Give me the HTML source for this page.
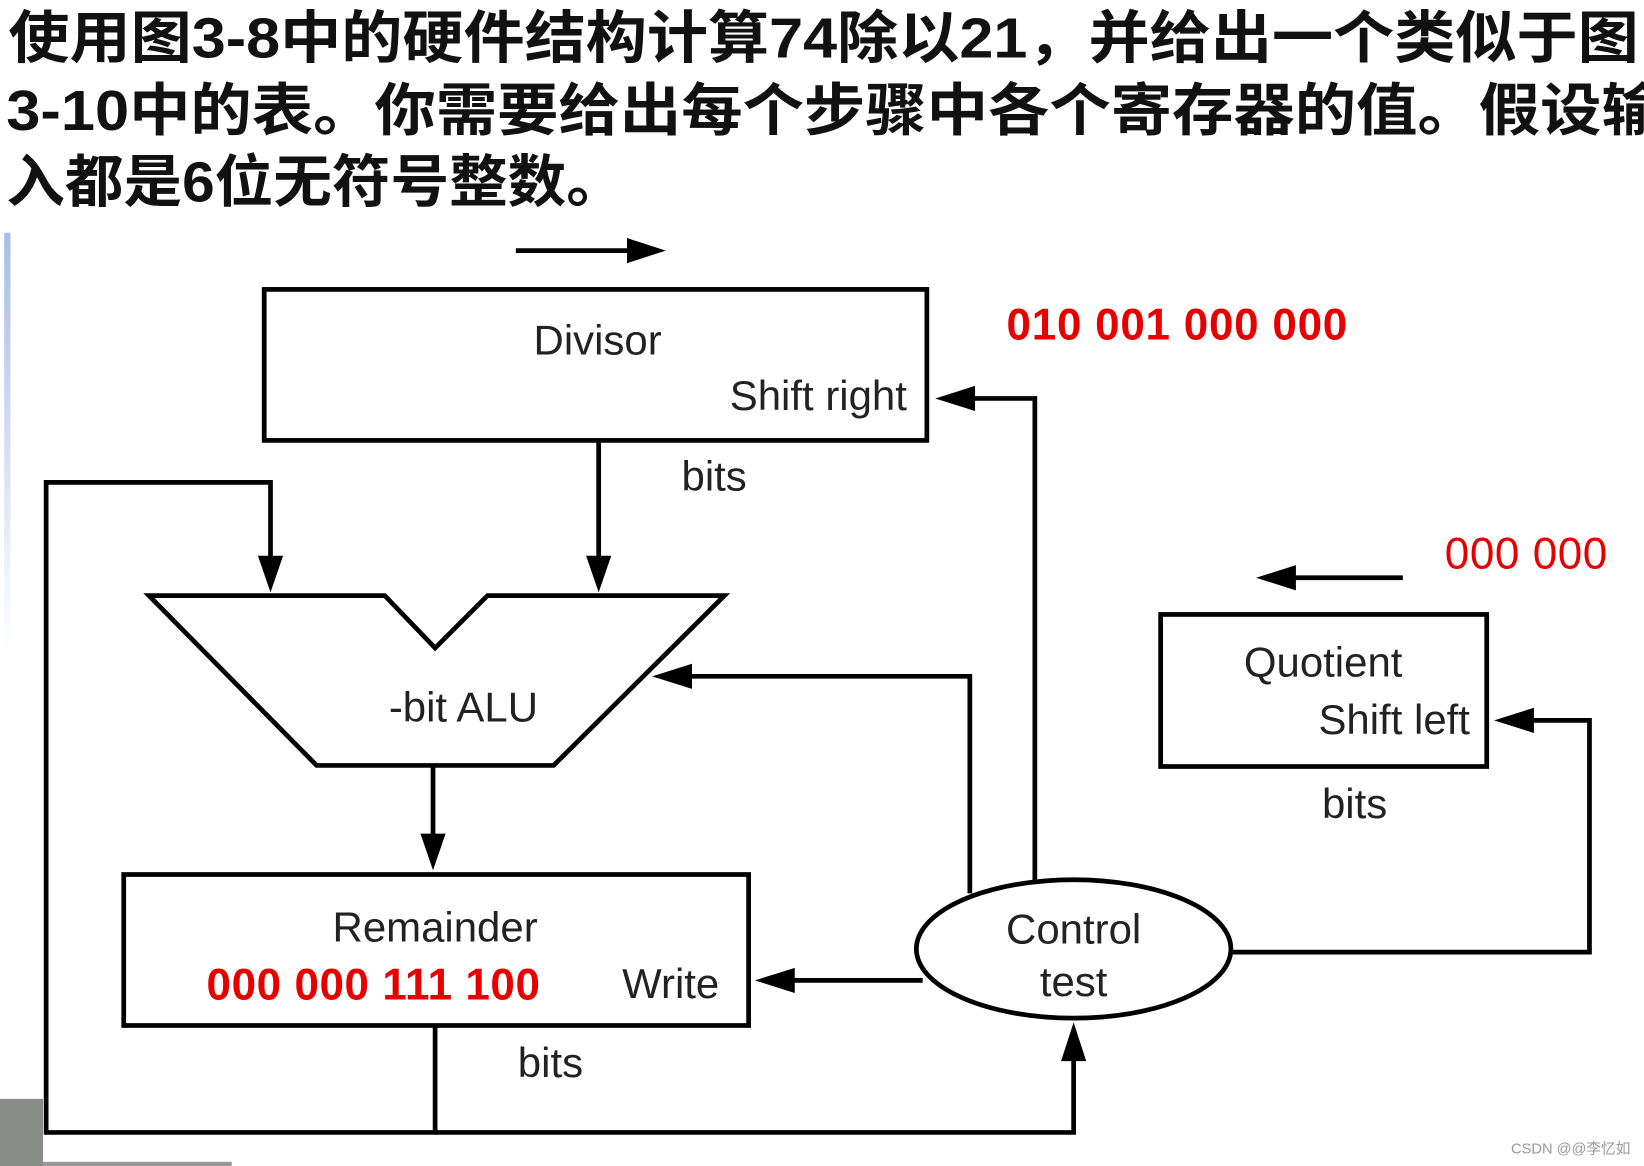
<!DOCTYPE html>
<html><head><meta charset="utf-8"><style>
html,body{margin:0;padding:0;background:#fff;}
svg{display:block;}
</style></head><body>
<svg width="1644" height="1166" viewBox="0 0 1568 1112" preserveAspectRatio="none" xmlns="http://www.w3.org/2000/svg">
<defs>
<linearGradient id="g" x1="0" y1="0" x2="0" y2="1"><stop offset="0" stop-color="#a9bde3"/><stop offset="1" stop-color="#fff"/></linearGradient>
</defs>
<rect width="1568" height="1112" fill="#fff"/>
<g font-family="'Liberation Sans','Noto Sans CJK SC',sans-serif" font-weight="bold" font-size="54" fill="#111">
<text x="8" y="55" textLength="1555" lengthAdjust="spacingAndGlyphs">使用图3-8中的硬件结构计算74除以21，并给出一个类似于图</text>
<text x="6" y="124" textLength="1580" lengthAdjust="spacingAndGlyphs">3-10中的表。你需要给出每个步骤中各个寄存器的值。假设输</text>
<text x="6" y="192" textLength="590" lengthAdjust="spacingAndGlyphs">入都是6位无符号整数。</text>
</g>
<rect x="4" y="222" width="6" height="400" fill="url(#g)"/>
<rect x="0" y="1048" width="41" height="64" fill="#888d88"/>
<rect x="41" y="1108" width="180" height="4" fill="#999"/>
<g stroke="#000" stroke-width="4.5" fill="none">
<rect x="252" y="276" width="632" height="144"/>
<rect x="118" y="834" width="596" height="144"/>
<rect x="1107" y="586" width="311" height="145"/>
<polygon points="142,568 367,568 415,618 465,568 691,568 528,730 302,730"/>
<ellipse cx="1024" cy="905" rx="150" ry="66"/>
<polyline points="492,239 615,239"/>
<polyline points="571,420 571,548"/>
<polyline points="415,978 415,1080 44,1080 44,460 258,460 258,548"/>
<polyline points="987,840 987,380 912,380"/>
<polyline points="925,852 925,645 642,645"/>
<polyline points="413,730 413,812"/>
<polyline points="880,935 740,935"/>
<polyline points="415,1080 1024,1080 1024,995"/>
<polyline points="1175,908 1516,908 1516,687 1445,687"/>
<polyline points="1338,551 1218,551"/>
</g>
<g fill="#000">
<polygon points="635,239 598,227 598,251"/>
<polygon points="571,565 559,530 583,530"/>
<polygon points="258,565 246,530 270,530"/>
<polygon points="892,380 930,368 930,392"/>
<polygon points="622,645 660,633 660,657"/>
<polygon points="413,830 401,795 425,795"/>
<polygon points="720,935 758,923 758,947"/>
<polygon points="1024,975 1012,1012 1036,1012"/>
<polygon points="1425,687 1463,675 1463,699"/>
<polygon points="1198,551 1236,539 1236,563"/>
</g>
<g font-family="'Liberation Sans',sans-serif" font-size="40" fill="#222">
<text x="570" y="338" text-anchor="middle">Divisor</text>
<text x="865" y="391" text-anchor="end">Shift right</text>
<text x="650" y="468">bits</text>
<text x="442" y="688" text-anchor="middle">-bit ALU</text>
<text x="415" y="898" text-anchor="middle">Remainder</text>
<text x="686" y="952" text-anchor="end">Write</text>
<text x="525" y="1027" text-anchor="middle">bits</text>
<text x="1024" y="900" text-anchor="middle">Control</text>
<text x="1024" y="950" text-anchor="middle">test</text>
<text x="1262" y="645" text-anchor="middle">Quotient</text>
<text x="1402" y="700" text-anchor="end">Shift left</text>
<text x="1292" y="780" text-anchor="middle">bits</text>
</g>
<g font-family="'Liberation Sans',sans-serif" font-size="42" fill="#e60000">
<text x="960" y="324" font-weight="bold" textLength="325">010 001 000 000</text>
<text x="197" y="953" font-weight="bold" textLength="318">000 000 111 100</text>
<text x="1378" y="542" textLength="155">000 000</text>
</g>
<text x="1555" y="1100" text-anchor="end" font-family="'Liberation Sans','Noto Sans CJK SC',sans-serif" font-size="14" fill="#999">CSDN @@李忆如</text>
</svg>
</body></html>
